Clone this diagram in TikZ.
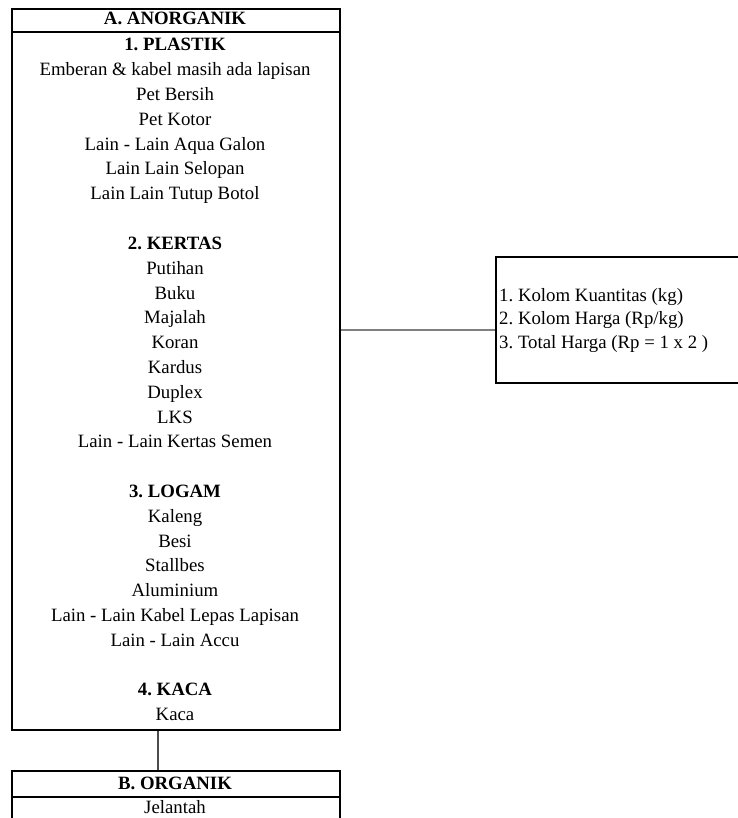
\documentclass[tikz,border=0pt]{standalone}
\usepackage{fontspec}
\setmainfont{Liberation Serif}
\frenchspacing
\begin{document}
\begin{tikzpicture}[x=1pt,y=-1pt,
  boxline/.style={draw=black,line width=2.2pt,rectangle,inner sep=0pt,anchor=north west},
  itemtext/.style={font=\fontsize{18.8}{22}\selectfont,inner sep=0pt,anchor=base},
  headtext/.style={font=\fontsize{18.8}{22}\selectfont\bfseries,inner sep=0pt,anchor=base},
  linkline/.style={draw=black!50,line width=2pt}]
\useasboundingbox (0,0) rectangle (737,818);
% boxes
\node[boxline,minimum width=328pt,minimum height=23pt] (ahead) at (11,8) {};
\node[boxline,minimum width=328pt,minimum height=698pt] (abody) at (11,31) {};
\node[boxline,minimum width=250pt,minimum height=126pt] (kolom) at (495,256) {};
\node[boxline,minimum width=328pt,minimum height=26pt] (bhead) at (11,770) {};
\node[boxline,minimum width=328pt,minimum height=40pt] (bbody) at (11,796) {};
% header texts
\node[headtext] (tA) at (175,24.5) {A. ANORGANIK};
\node[headtext] (tB) at (175,789) {B. ORGANIK};
\node[itemtext] (tJ) at (175,813) {Jelantah};
% body lines
\foreach \t/\b [count=\i from 0] in {
  1. PLASTIK/1, Emberan \& kabel masih ada lapisan/0, Pet Bersih/0, Pet Kotor/0,
  Lain - Lain Aqua Galon/0, Lain Lain Selopan/0, Lain Lain Tutup Botol/0, /0,
  2. KERTAS/1, Putihan/0, Buku/0, Majalah/0, Koran/0, Kardus/0, Duplex/0, LKS/0,
  Lain - Lain Kertas Semen/0, /0,
  3. LOGAM/1, Kaleng/0, Besi/0, Stallbes/0, Aluminium/0,
  Lain - Lain Kabel Lepas Lapisan/0, Lain - Lain Accu/0, /0,
  4. KACA/1, Kaca/0}{
  \ifnum\b=1
    \node[headtext] (line\i) at (175,51+\i*24.8) {\t};
  \else
    \node[itemtext] (line\i) at (175,51+\i*24.8) {\t};
  \fi
}
% right box text
\node[itemtext,anchor=base west] (k1) at (499,301) {1. Kolom Kuantitas (kg)};
\node[itemtext,anchor=base west] (k2) at (499,324.5) {2. Kolom Harga (Rp/kg)};
\node[itemtext,anchor=base west] (k3) at (499,348) {3. Total Harga (Rp = 1 x 2 )};
% connectors
\coordinate (hy) at (400,330);
\coordinate (vx) at (158,750);
\draw[linkline] (abody.east |- hy) -- (kolom.west |- hy);
\draw[draw=black!70,line width=1.3pt] (vx |- abody.south) -- (vx |- bhead.north);
\end{tikzpicture}
\end{document}
